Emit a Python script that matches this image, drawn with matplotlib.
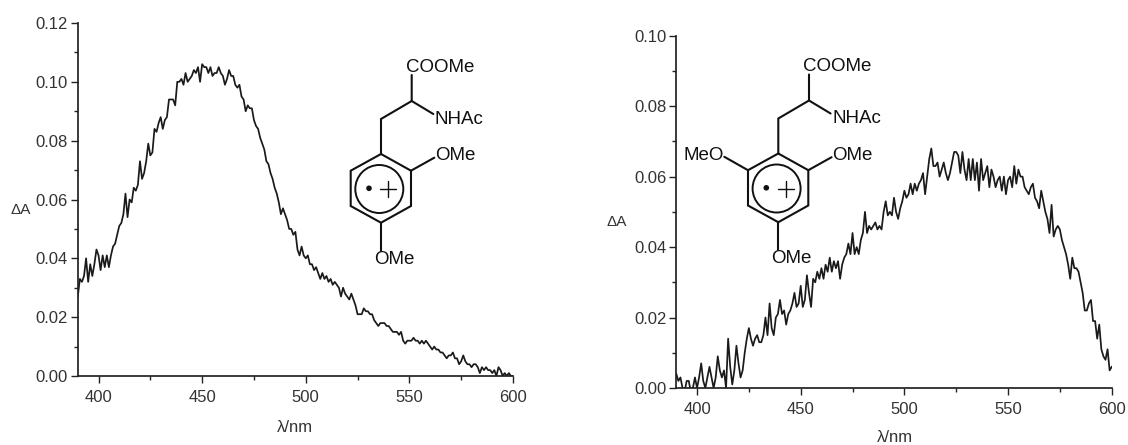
import numpy as np
import matplotlib
matplotlib.use('Agg')
import matplotlib.pyplot as plt
from matplotlib.patches import Circle

plt.rcParams['font.family'] = ['Liberation Sans', 'DejaVu Sans']

# wavelengths, 1 nm apart
wavelength = np.arange(390, 601)

# delta A * 1000, one row per 10 nm starting at 390
left_values = [
    27, 33, 32, 34, 40, 32, 38, 34, 38, 43,
    41, 36, 41, 37, 41, 37, 41, 44, 45, 48,
    51, 52, 55, 62, 54, 60, 59, 64, 63, 65,
    73, 67, 69, 73, 79, 75, 76, 84, 83, 86,
    88, 84, 87, 88, 94, 94, 94, 92, 100, 100,
    101, 99, 103, 100, 101, 102, 104, 103, 105, 100,
    106, 105, 105, 103, 105, 102, 103, 103, 105, 103,
    102, 99, 101, 104, 102, 102, 99, 98, 99, 95,
    94, 90, 92, 91, 91, 87, 85, 84, 81, 79,
    77, 73, 72, 69, 67, 64, 62, 59, 55, 57,
    55, 53, 50, 50, 48, 49, 43, 41, 44, 41,
    40, 41, 38, 38, 36, 37, 35, 33, 35, 33,
    34, 32, 33, 31, 32, 31, 30, 27, 30, 28,
    27, 26, 28, 26, 24, 21, 21, 21, 23, 22,
    22, 21, 21, 19, 18, 17, 18, 18, 18, 17,
    17, 16, 15, 15, 15, 14, 15, 12, 11, 12,
    12, 12, 13, 12, 12, 11, 12, 11, 12, 11,
    10, 9, 10, 9, 9, 8, 8, 7, 6, 7,
    7, 8, 6, 6, 4, 5, 7, 5, 4, 4,
    3, 4, 4, 3, 1, 3, 2, 3, 2, 2,
    1, 2, 0, 3, 2, 0, 1, 0, 1, 0,
    0,
]
right_values = [
    4, 2, 3, 0, -1, 2, 2, -1, 0, 3,
    0, 3, 7, 2, 0, 3, 6, 3, 0, 3,
    9, 5, 3, 5, 0, 14, 6, 1, 5, 12,
    7, 3, 5, 10, 14, 17, 14, 12, 14, 15,
    13, 13, 15, 20, 15, 24, 17, 15, 20, 21,
    25, 21, 22, 18, 21, 22, 24, 27, 23, 24,
    29, 23, 25, 32, 27, 23, 31, 30, 33, 31,
    34, 31, 35, 33, 37, 33, 36, 34, 36, 31,
    35, 37, 38, 41, 38, 44, 38, 40, 38, 42,
    44, 50, 44, 46, 45, 46, 47, 45, 46, 45,
    50, 53, 49, 50, 49, 54, 50, 48, 51, 53,
    56, 54, 55, 58, 55, 58, 56, 58, 59, 61,
    55, 60, 65, 68, 63, 63, 64, 60, 62, 64,
    61, 59, 61, 64, 67, 67, 66, 61, 67, 62,
    59, 65, 59, 65, 59, 64, 56, 65, 59, 61,
    63, 57, 62, 60, 57, 59, 60, 56, 60, 55,
    59, 60, 57, 63, 58, 62, 60, 60, 57, 56,
    55, 57, 58, 54, 53, 51, 56, 53, 50, 48,
    44, 52, 43, 45, 46, 45, 42, 40, 38, 35,
    31, 37, 34, 34, 33, 30, 27, 22, 22, 24,
    25, 19, 19, 14, 18, 11, 9, 8, 11, 5,
    6,
]
x_ticks = [400, 450, 500, 550, 600]
x_minor = [425, 475, 525, 575]
left_yticks = [0.00, 0.02, 0.04, 0.06, 0.08, 0.10, 0.12]
left_yminor = [0.01, 0.03, 0.05, 0.07, 0.09, 0.11]
right_yticks = [0.00, 0.02, 0.04, 0.06, 0.08, 0.10]
right_yminor = [0.01, 0.03, 0.05, 0.07, 0.09]

W, H = 1128, 445
GREY = '#333333'
INK = '#111111'


def make_axes(fig, left, right, top, bottom, ymax, yticks, yminor):
    ax = fig.add_axes([left / W, (H - bottom) / H, (right - left) / W, (bottom - top) / H])
    ax.set_xlim(390, 600)
    ax.set_ylim(0, ymax)
    ax.spines['top'].set_visible(False)
    ax.spines['right'].set_visible(False)
    ax.spines['left'].set_linewidth(1.25)
    ax.spines['bottom'].set_linewidth(1.25)
    ax.spines['left'].set_color('#222222')
    ax.spines['bottom'].set_color('#222222')
    ax.set_xticks(x_ticks)
    ax.set_xticks(x_minor, minor=True)
    ax.set_yticks(yticks)
    ax.set_yticks(yminor, minor=True)
    ax.set_yticklabels(['%.2f' % v for v in yticks])
    ax.tick_params(axis='both', which='major', length=5, width=1.0, color='#222222',
                   labelsize=12, labelcolor=GREY)
    ax.tick_params(axis='both', which='minor', length=3, width=1.0, color='#222222')
    ax.tick_params(axis='y', which='major', pad=2)
    ax.tick_params(axis='x', which='major', pad=5)
    return ax


def draw_molecule(ov, dx, dy, second_methoxy):
    bonds = [
        [(411.7, 75), (411.7, 101), (381, 119), (381, 154)],
        [(411.7, 101), (433.3, 114)],
        [(381, 154), (411, 170.7), (411, 206), (381, 222.7), (350.7, 206), (350.7, 170.7), (381, 154)],
        [(411, 170.7), (434.3, 157.7)],
        [(381, 222.7), (381, 250.7)],
        [(388.3 - 8, 189), (388.3 + 8, 189)],
        [(388.3, 189 - 8), (388.3, 189 + 8)],
    ]
    if second_methoxy:
        bonds.append([(350.7, 170.7), (327, 157.3)])
    for b in bonds:
        xs = [p[0] + dx for p in b]
        ys = [p[1] + dy for p in b]
        lw = 1.0 if b[0][0] == 380.3 or b[0][0] == 388.3 else 1.5
        ov.plot(xs, ys, color=INK, lw=lw, solid_capstyle='round', solid_joinstyle='miter')
    ov.add_patch(Circle((379.3 + dx, 189 + dy), 24, fill=False, ec=INK, lw=1.4))
    ov.add_patch(Circle((369 + dx, 188.3 + dy), 2.8, fc=INK, ec='none'))
    kw = dict(fontsize=13.5, color=INK, va='center')
    ov.text(440 + dx, 67.3 + dy, 'COOMe', ha='center', **kw)
    ov.text(435 + dx, 119.3 + dy, 'NHAc', ha='left', **kw)
    ov.text(435 + dx, 156 + dy, 'OMe', ha='left', **kw)
    ov.text(394.3 + dx, 259.3 + dy, 'OMe', ha='center', **kw)
    if second_methoxy:
        ov.text(327 + dx, 156 + dy, 'MeO', ha='right', **kw)


fig = plt.figure(figsize=(W / 100, H / 100), dpi=100)

ax1 = make_axes(fig, 77.8, 513, 23, 376, 0.12, left_yticks, left_yminor)
ax1.plot(wavelength, np.array(left_values) / 1000, color='#1a1a1a', lw=1.25)

ax2 = make_axes(fig, 676.3, 1111.7, 35.7, 388, 0.10, right_yticks, right_yminor)
ax2.plot(wavelength, np.array(right_values) / 1000, color='#1a1a1a', lw=1.25)

# overlay in pixel coordinates for the structures and axis titles
ov = fig.add_axes([0, 0, 1, 1])
ov.set_xlim(0, W)
ov.set_ylim(H, 0)
ov.axis('off')
ov.patch.set_alpha(0)

draw_molecule(ov, 0, 0, False)
draw_molecule(ov, 397.3, -0.5, True)

ov.text(21, 210, '\u0394A', fontsize=11, color=GREY, ha='center', va='center')
ov.text(617, 222, '\u0394A', fontsize=11, color=GREY, ha='center', va='center')
ov.text(295, 427, '\u03bb/nm', fontsize=12, color=GREY, ha='center', va='center')
ov.text(895, 438, '\u03bb/nm', fontsize=12, color=GREY, ha='center', va='center')

fig.savefig('out.png', dpi=100)
